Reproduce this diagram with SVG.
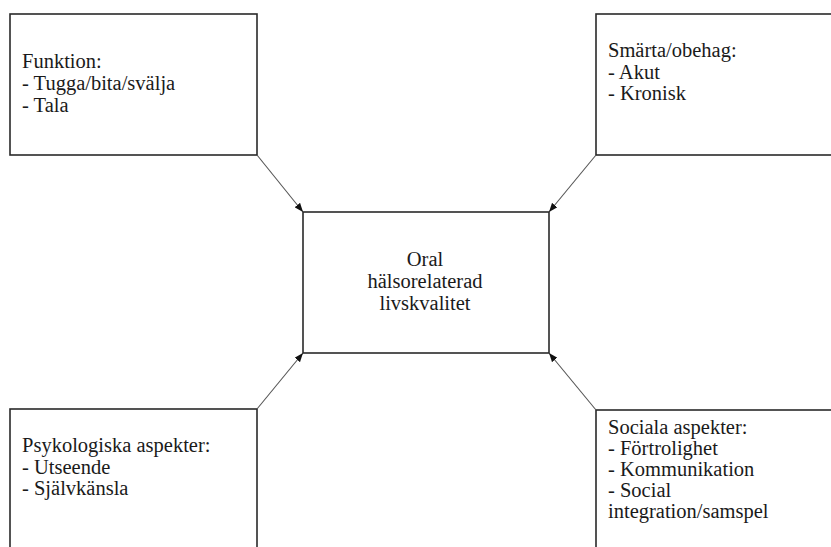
<svg xmlns="http://www.w3.org/2000/svg" width="831" height="547" viewBox="0 0 831 547">
<style>
.box{fill:#fff;stroke:#2a2a2a;stroke-width:1.6}
text{font-family:'Liberation Serif','Times New Roman',serif;font-size:20.5px;fill:#1a1a1a}
.c{text-anchor:middle}
.conn line{stroke:#555;stroke-width:1.1}
</style>
<defs>
<marker id="ah" viewBox="0 0 9 7" refX="9" refY="3.5" markerWidth="9" markerHeight="7" markerUnits="userSpaceOnUse" orient="auto">
<path d="M0,0 L9,3.5 L0,7 z" fill="#111"/>
</marker>
</defs>
<rect width="831" height="547" fill="#fff"/>
<g id="funktion">
<rect class="box" x="10" y="14" width="247" height="141"/>
<text x="22" y="68">Funktion:</text>
<text x="22" y="90">- Tugga/bita/svälja</text>
<text x="22" y="112">- Tala</text>
</g>
<g id="smarta">
<rect class="box" x="596" y="14" width="240" height="141"/>
<text x="608" y="57">Smärta/obehag:</text>
<text x="608" y="78.5">- Akut</text>
<text x="608" y="100">- Kronisk</text>
</g>
<g id="center">
<rect class="box" x="303" y="212" width="246" height="141"/>
<text class="c" x="425" y="266">Oral</text>
<text class="c" x="425" y="288">hälsorelaterad</text>
<text class="c" x="425" y="310">livskvalitet</text>
</g>
<g id="psyk">
<rect class="box" x="10" y="409" width="247" height="145"/>
<text x="22" y="452">Psykologiska aspekter:</text>
<text x="22" y="473.5">- Utseende</text>
<text x="22" y="495">- Självkänsla</text>
</g>
<g id="sociala">
<rect class="box" x="596" y="410" width="240" height="145"/>
<text x="608" y="434">Sociala aspekter:</text>
<text x="608" y="455">- Förtrolighet</text>
<text x="608" y="476">- Kommunikation</text>
<text x="608" y="497">- Social</text>
<text x="608" y="518">integration/samspel</text>
</g>
<g id="connectors" class="conn">
<line x1="257" y1="155" x2="303" y2="212" marker-end="url(#ah)"/>
<line x1="596" y1="155" x2="549" y2="212" marker-end="url(#ah)"/>
<line x1="257" y1="409" x2="303" y2="353" marker-end="url(#ah)"/>
<line x1="596" y1="410" x2="549" y2="353" marker-end="url(#ah)"/>
</g>
</svg>
